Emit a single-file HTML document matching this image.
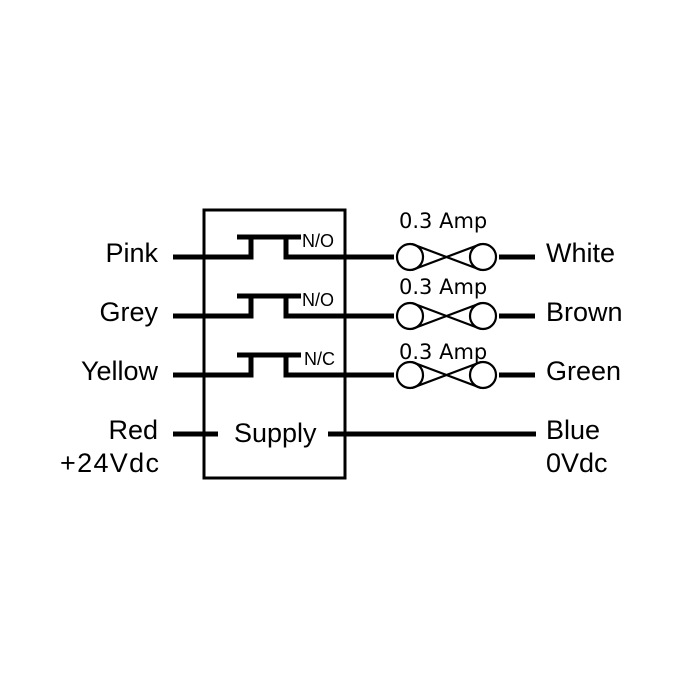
<!DOCTYPE html>
<html><head><style>
html,body{margin:0;padding:0;background:#fff;}
svg{display:block;}
.l{font-family:"Liberation Sans",Arial,sans-serif;font-size:27px;fill:#000;}
.s{font-family:"Liberation Sans",Arial,sans-serif;font-size:18px;fill:#000;}
.a{font-family:"DejaVu Sans",sans-serif;font-size:21px;fill:#000;}
</style></head><body>
<svg width="700" height="700" viewBox="0 0 700 700" xmlns="http://www.w3.org/2000/svg">
<rect x="0" y="0" width="700" height="700" fill="#fff"/>
<rect x="204" y="210" width="141" height="268" fill="none" stroke="#000" stroke-width="3"/>
<g stroke="#000" stroke-width="5" fill="none" stroke-linecap="butt">
  <path d="M173 257 H251 V237 M237 237 H301 M286 237 V257 H394"/>
  <line x1="499" y1="257" x2="535" y2="257"/>
  <path d="M173 316 H251 V296 M237 296 H301 M286 296 V316 H394"/>
  <line x1="499" y1="316" x2="535" y2="316"/>
  <path d="M173 375 H251 V355 M237 355 H301 M286 355 V375 H394"/>
  <line x1="499" y1="375" x2="535" y2="375"/>
  <line x1="173" y1="434" x2="218" y2="434"/>
  <line x1="328" y1="434" x2="536" y2="434"/>
</g>
<g stroke="#000" stroke-width="2.2" fill="none">
  <g transform="translate(0,257)">
    <circle cx="410" cy="0" r="13"/><circle cx="483" cy="0" r="13"/>
    <path d="M412 -13 L481 13 M412 13 L481 -13"/>
  </g>
  <g transform="translate(0,316)">
    <circle cx="410" cy="0" r="13"/><circle cx="483" cy="0" r="13"/>
    <path d="M412 -13 L481 13 M412 13 L481 -13"/>
  </g>
  <g transform="translate(0,375)">
    <circle cx="410" cy="0" r="13"/><circle cx="483" cy="0" r="13"/>
    <path d="M412 -13 L481 13 M412 13 L481 -13"/>
  </g>
</g>
<text class="s" x="302" y="247">N/O</text>
<text class="s" x="302" y="306">N/O</text>
<text class="s" x="304" y="365">N/C</text>
<text class="a" x="399" y="228">0.3 Amp</text>
<text class="a" x="399" y="294">0.3 Amp</text>
<text class="a" x="399" y="359">0.3 Amp</text>
<text class="l" x="158" y="262" text-anchor="end">Pink</text>
<text class="l" x="158" y="321" text-anchor="end">Grey</text>
<text class="l" x="158" y="380" text-anchor="end">Yellow</text>
<text class="l" x="158" y="439" text-anchor="end">Red</text>
<text class="l" x="159" y="472" text-anchor="end" textLength="99">+24Vdc</text>
<text class="l" x="234" y="442">Supply</text>
<text class="l" x="546" y="262">White</text>
<text class="l" x="546" y="321">Brown</text>
<text class="l" x="546" y="380">Green</text>
<text class="l" x="546" y="439">Blue</text>
<text class="l" x="546" y="472">0Vdc</text>
</svg>
</body></html>
